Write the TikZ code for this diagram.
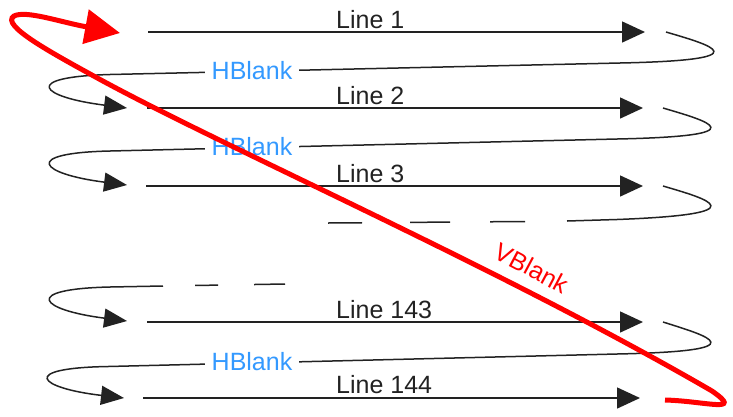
\documentclass[tikz,border=0pt]{standalone}
\usepackage{fontspec}
\setmainfont{Liberation Sans}
\usetikzlibrary{arrows.meta}
\definecolor{hbblue}{HTML}{3399FF}
\definecolor{vred}{HTML}{FF0000}
\definecolor{ink}{HTML}{222222}
\begin{document}
\begin{tikzpicture}[x=1pt,y=-1pt,
  ln/.style={line width=1.5pt, draw=ink, -{Triangle[length=23pt,width=21pt]}},
  ret/.style={line width=1.5pt, draw=ink},
  retarrow/.style={ret, -{Triangle[length=23pt,width=19pt]}},
  lbl/.style={anchor=base west, font=\fontsize{25}{30}\selectfont, text=ink, inner sep=0pt},
  hb/.style={font=\fontsize{25}{30}\selectfont, text=hbblue, fill=white, inner xsep=7pt, inner ysep=1pt},
  vb/.style={line width=5pt, draw=vred, -{Triangle[length=35pt,width=34pt]}},
  vbtext/.style={font=\fontsize{25}{30}\selectfont, text=vred, rotate=-28}]
\useasboundingbox (0,0) rectangle (733,416);

% scan lines
\coordinate (L1s) at (148,32);  \coordinate (L1e) at (645,32);
\coordinate (L2s) at (147,108); \coordinate (L2e) at (643,108);
\coordinate (L3s) at (146,186); \coordinate (L3e) at (643,186);
\coordinate (L4s) at (147,322); \coordinate (L4e) at (643,322);
\coordinate (L5s) at (143,398); \coordinate (L5e) at (640,398);
\draw[ln] (L1s) -- (L1e);
\draw[ln] (L2s) -- (L2e);
\draw[ln] (L3s) -- (L3e);
\draw[ln] (L4s) -- (L4e);
\draw[ln] (L5s) -- (L5e);
\node[lbl] (t1) at (336,28) {Line 1};
\node[lbl] (t2) at (336,104) {Line 2};
\node[lbl] (t3) at (336,182) {Line 3};
\node[lbl] (t4) at (336,318) {Line 143};
\node[lbl] (t5) at (336,393) {Line 144};

% horizontal blanking returns
\coordinate (r1) at (666,32);  \coordinate (a2) at (127,108);
\draw[retarrow] (r1) .. controls (710,45) and (765,60) .. (620,63) -- (110,74.5) .. controls (20,77) and (40,97) .. (a2);
\node[hb] (hb1) at (252,71) {HBlank};

\coordinate (r2) at (663,108); \coordinate (a3) at (127,185);
\draw[retarrow] (r2) .. controls (707,121) and (762,136) .. (617,139) -- (110,151) .. controls (20,153) and (40,174) .. (a3);
\node[hb] (hb2) at (252,147) {HBlank};

\coordinate (r3) at (663,186); \coordinate (d3) at (567,221);
\draw[ret] (r3) .. controls (707,199) and (762,214) .. (617,219.5) -- (d3);
\coordinate (d3a) at (525,221.5); \coordinate (d3b) at (328,223);
\draw[ret, dash pattern=on 35pt off 40pt on 40pt off 48pt on 34pt off 20pt] (d3a) -- (d3b);

\coordinate (d4a) at (285,284); \coordinate (d4b) at (163,286); \coordinate (a4) at (127,321);
\draw[ret, dash pattern=on 31pt off 36pt on 23pt off 40pt] (d4a) -- (d4b);
\draw[retarrow] (d4b) -- (110,287) .. controls (20,289) and (40,310) .. (a4);

\coordinate (r4) at (663,322); \coordinate (a5) at (124,398);
\draw[retarrow] (r4) .. controls (707,336) and (762,351) .. (617,354) -- (108,366.5) .. controls (18,368) and (38,388) .. (a5);
\node[hb] (hb4) at (252,362) {HBlank};

% vertical blanking
\coordinate (v0) at (665,400); \coordinate (v1) at (120,33);
\draw[vb] (v0) .. controls (705,401) and (745,414) .. (712,391)
  .. controls (500,268) and (230,150) .. (101,80)
  .. controls (50,52) and (0,25) .. (14,16)
  .. controls (26,10) and (60,22) .. (v1);
\node[vbtext] (vbl) at (532,268) {VBlank};
\end{tikzpicture}
\end{document}
